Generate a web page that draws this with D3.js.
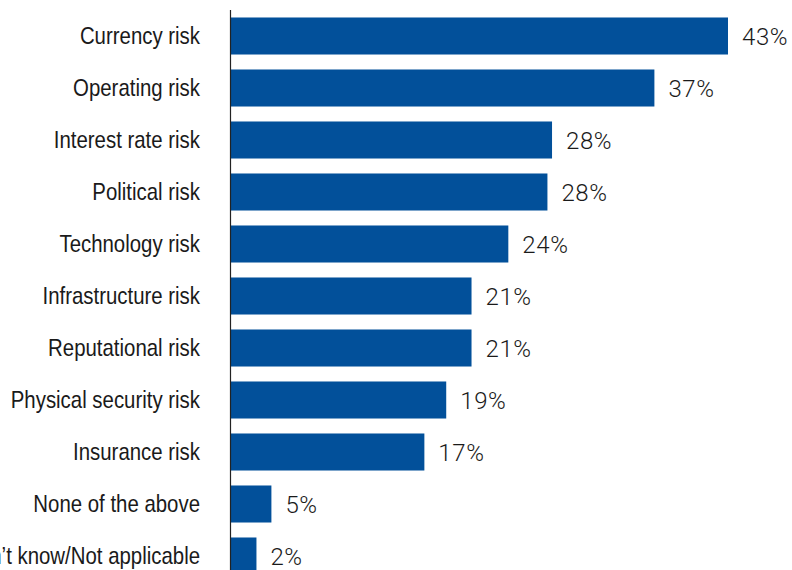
<!DOCTYPE html>
<html>
<head>
<meta charset="utf-8">
<script src="https://cdn.jsdelivr.net/npm/d3@7"></script>
<style>
  html, body { margin: 0; padding: 0; background: #fff; }
  svg { display: block; }
  .cat { font-family: "Liberation Sans", Arial, sans-serif; font-size: 24px; fill: #1a1a1a; }
  .val { font-family: Roboto, "Liberation Sans", Arial, sans-serif; font-weight: 300; font-size: 24px; letter-spacing: 0.6px; fill: #1a1a1a; }
</style>
</head>
<body>
<svg id="chart" width="792" height="570"></svg>
<script>
"use strict";

// categories, top to bottom
const categories = [
    "Currency risk",
    "Operating risk",
    "Interest rate risk",
    "Political risk",
    "Technology risk",
    "Infrastructure risk",
    "Reputational risk",
    "Physical security risk",
    "Insurance risk",
    "None of the above",
    "Don\u2019t know/Not applicable"
];

// bar lengths (percent)
const values = [43.3, 36.9, 28.0, 27.6, 24.2, 21.0, 21.0, 18.8, 16.9, 3.6, 2.3];

// printed labels
const valueLabels = ["43%", "37%", "28%", "28%", "24%", "21%", "21%", "19%", "17%", "5%", "2%"];

const axisX = 230;
const plotTop = 10;
const step = 52;
// no condensed face installed, so squeeze the regular one
const squeeze = 0.85;

const svg = d3.select('#chart');

const x = d3.scaleLinear()
    .domain([0, 43.3])
    .range([axisX, 728]);

const y = d3.scaleBand()
    .domain(categories)
    .range([plotTop, plotTop + step * categories.length])
    .paddingInner(0.288)
    .paddingOuter(0.144);

const rows = categories.map(function (c, i) {
    return { cat: c, value: values[i], label: valueLabels[i] };
});

// bars
svg.selectAll('.bar')
    .data(rows)
    .enter()
    .append('rect')
    .attr('class', 'bar')
    .attr('x', x(0))
    .attr('y', function (d) { return y(d.cat); })
    .attr('width', function (d) { return x(d.value) - x(0); })
    .attr('height', y.bandwidth())
    .attr('fill', '#02509a');

// category labels
svg.selectAll('.cat')
    .data(rows)
    .enter()
    .append('text')
    .attr('class', 'cat')
    .attr('transform', function (d) {
        return 'translate(200,' + (y(d.cat) + y.bandwidth() / 2) + ') scale(' + squeeze + ',1)';
    })
    .attr('dy', '0.35em')
    .attr('text-anchor', 'end')
    .text(function (d) { return d.cat; });

// value labels
svg.selectAll('.val')
    .data(rows)
    .enter()
    .append('text')
    .attr('class', 'val')
    .attr('x', function (d) { return x(d.value) + 14; })
    .attr('y', function (d) { return y(d.cat) + y.bandwidth() / 2; })
    .attr('dy', '0.36em')
    .text(function (d) { return d.label; });

// vertical axis line
svg.append('line')
    .attr('x1', axisX + 0.5)
    .attr('x2', axisX + 0.5)
    .attr('y1', plotTop)
    .attr('y2', plotTop + step * categories.length)
    .attr('stroke', '#222')
    .attr('stroke-width', 1.2);
</script>
</body>
</html>
